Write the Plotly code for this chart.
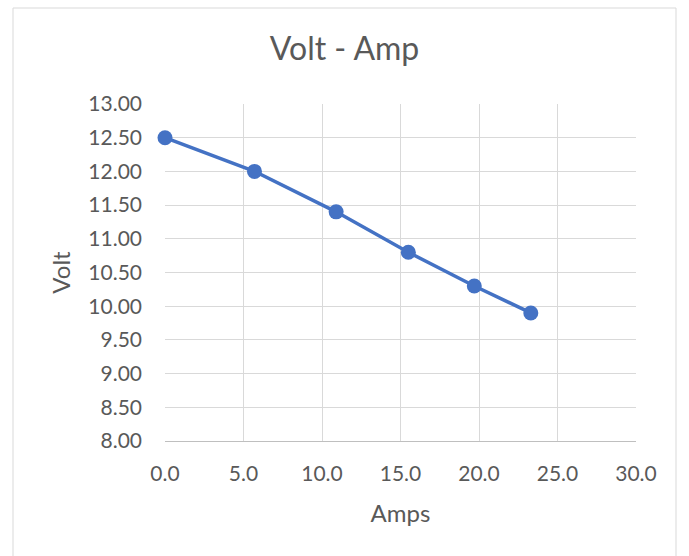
import plotly.graph_objects as go

amps = [0.0, 5.7, 10.9, 15.5, 19.7, 23.3]
volts = [12.5, 12.0, 11.4, 10.8, 10.3, 9.9]
x_ticks = [0, 5, 10, 15, 20, 25, 30]
y_ticks = [8.0, 8.5, 9.0, 9.5, 10.0, 10.5, 11.0, 11.5, 12.0, 12.5, 13.0]

W, H = 689, 556
L, R, T, B = 165, 53, 104, 115
pw, ph = W - L - R, H - T - B

fig = go.Figure()
fig.add_trace(go.Scatter(
    x=amps, y=volts, mode="lines+markers",
    line=dict(color="#4472C4", width=3.5),
    marker=dict(color="#4472C4", size=15),
    showlegend=False, cliponaxis=False,
))

font_family = "Lato, 'Noto Sans', sans-serif"
fig.update_layout(
    width=W, height=H,
    margin=dict(l=L, r=R, t=T, b=B),
    paper_bgcolor="white", plot_bgcolor="white",
    font=dict(family=font_family, color="#595959", size=21),
    title=dict(text="Volt - Amp", x=0.5, xanchor="center", y=1 - 49 / H, yanchor="middle",
               font=dict(size=32, color="#595959", family=font_family)),
    xaxis=dict(range=[0, 30], tickvals=x_ticks, ticktext=[f"{v:.1f}" for v in x_ticks],
               showgrid=True, gridcolor="#d9d9d9", gridwidth=1,
               showline=True, linecolor="#bfbfbf", linewidth=1, zeroline=False,
               ticks="", ticklabelstandoff=14,
               title=dict(text="Amps", font=dict(size=24), standoff=20)),
    yaxis=dict(range=[8, 13], tickvals=y_ticks, ticktext=[f"{v:.2f}" for v in y_ticks],
               showgrid=True, gridcolor="#d9d9d9", gridwidth=1,
               showline=False, zeroline=False, ticks="", ticklabelstandoff=22,
               title=dict(text="Volt", font=dict(size=24), standoff=10)),
)

# outer chart frame
fig.add_shape(type="rect", xref="paper", yref="paper",
              x0=(13 - L) / pw, x1=(676 - L) / pw,
              y0=(H - B - 560) / ph, y1=(H - B - 8) / ph,
              line=dict(color="#d9d9d9", width=1), layer="below")

fig.write_html("out.html")
